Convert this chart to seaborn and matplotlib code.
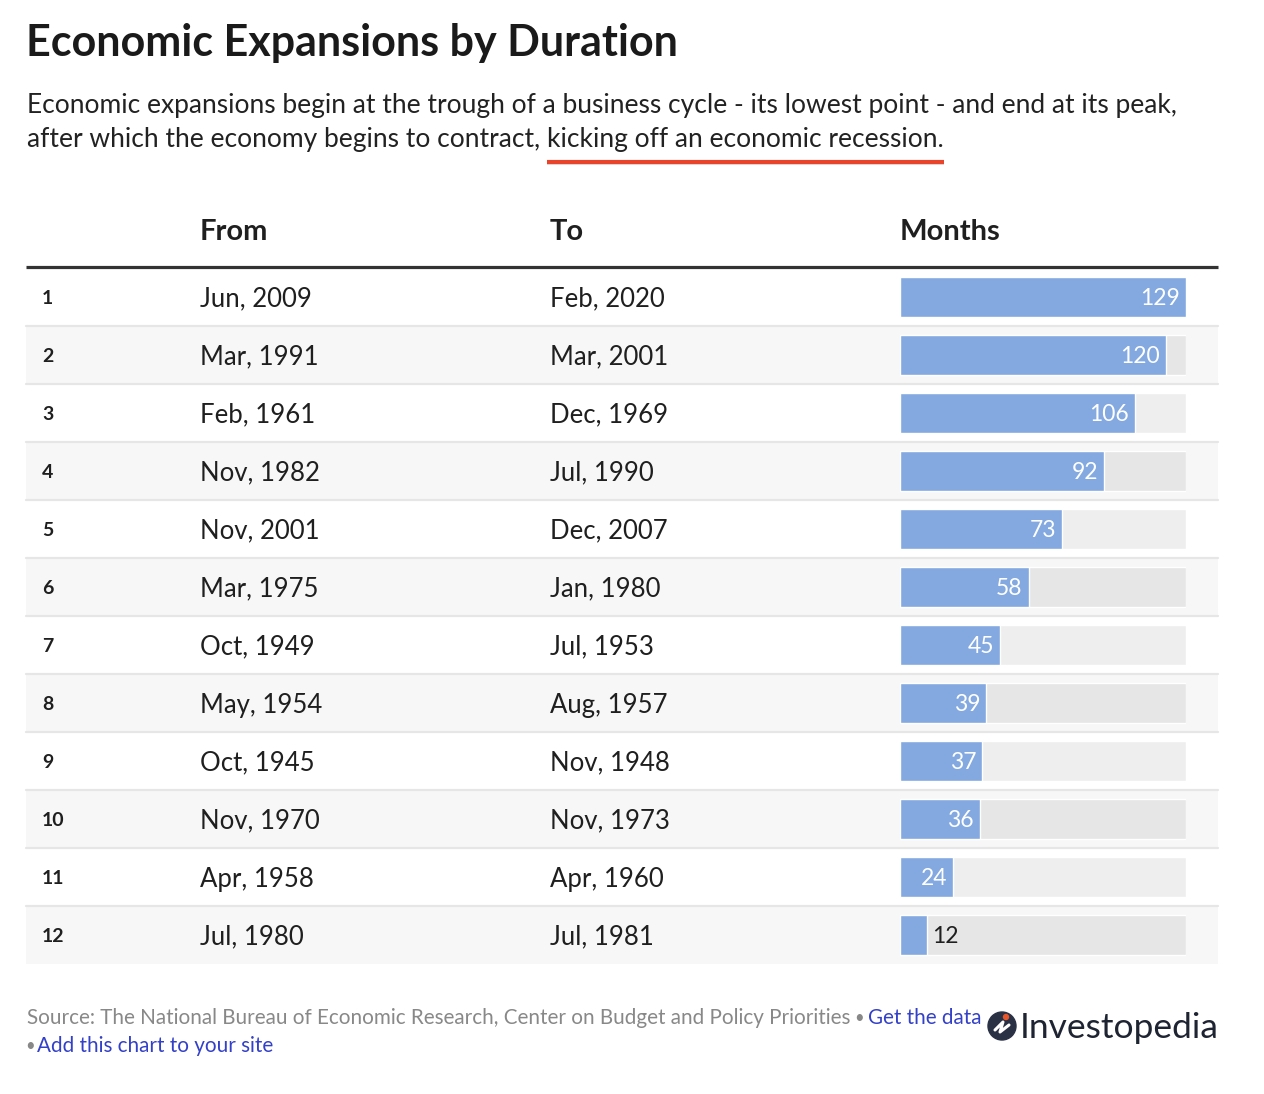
import matplotlib
matplotlib.use("Agg")
import matplotlib.pyplot as plt
from matplotlib.patches import Rectangle, Circle
import seaborn as sns
import pandas as pd

ranks = ["1", "2", "3", "4", "5", "6", "7", "8", "9", "10", "11", "12"]
from_dates = ["Jun, 2009", "Mar, 1991", "Feb, 1961", "Nov, 1982", "Nov, 2001", "Mar, 1975",
              "Oct, 1949", "May, 1954", "Oct, 1945", "Nov, 1970", "Apr, 1958", "Jul, 1980"]
to_dates = ["Feb, 2020", "Mar, 2001", "Dec, 1969", "Jul, 1990", "Dec, 2007", "Jan, 1980",
            "Jul, 1953", "Aug, 1957", "Nov, 1948", "Nov, 1973", "Apr, 1960", "Jul, 1981"]
months = [129, 120, 106, 92, 73, 58, 45, 39, 37, 36, 24, 12]

title = "Economic Expansions by Duration"
sub_line1 = "Economic expansions begin at the trough of a business cycle - its lowest point - and end at its peak,"
sub_line2a = "after which the economy begins to contract, "
sub_line2b = "kicking off an economic recession."
source = "Source: The National Bureau of Economic Research, Center on Budget and Policy Priorities"

sns.set_theme(style="white")
plt.rcParams["font.family"] = ["Lato", "DejaVu Sans"]

W, H = 1264, 1094
fig = plt.figure(figsize=(W / 100, H / 100), dpi=100)
fig.patch.set_facecolor("white")
ax = fig.add_axes([0, 0, 1, 1])
ax.set_xlim(0, W)
ax.set_ylim(H, 0)
ax.axis("off")

dark = "#1f1f1f"
blue = "#3340c8"

# title + subtitle
ax.text(26, 43, title, fontsize=31, fontweight="bold", color="#1a1a1a", va="center", ha="left")
ax.text(27, 106, sub_line1, fontsize=19, color="#222222", va="center", ha="left")
t1 = ax.text(27, 139, sub_line2a, fontsize=19, color="#222222", va="center", ha="left")
fig.canvas.draw()
r = fig.canvas.get_renderer()
inv = ax.transData.inverted()
bb = t1.get_window_extent(r)
x_start = inv.transform((bb.x1, bb.y0))[0]
t2 = ax.text(x_start, 139, sub_line2b, fontsize=19, color="#222222", va="center", ha="left")
bb2 = t2.get_window_extent(r)
x_end = inv.transform((bb2.x1, bb2.y0))[0]
ax.plot([x_start, x_end], [163, 163], color="#cccccc", lw=3, alpha=0.6, solid_capstyle="butt")
ax.plot([x_start, x_end], [161.5, 161.5], color="#e8442b", lw=3, solid_capstyle="butt")

# table geometry
left, right = 26, 1218
top, row_h = 268, 58
col_rank, col_from, col_to, col_bar = 42, 200, 550, 900

ax.text(col_from, 232, "From", fontsize=21, fontweight="bold", color=dark, va="center")
ax.text(col_to, 232, "To", fontsize=21, fontweight="bold", color=dark, va="center")
ax.text(col_bar, 232, "Months", fontsize=21, fontweight="bold", color=dark, va="center")
ax.plot([left, right], [266.5, 266.5], color="#333333", lw=2.3, solid_capstyle="butt")

for i in range(len(ranks)):
    y0 = top + i * row_h
    if i % 2 == 1:
        ax.add_patch(Rectangle((left, y0), right - left, row_h, color="#f7f7f7", lw=0, zorder=0))
    if i < len(ranks) - 1:
        ax.plot([left, right], [y0 + row_h, y0 + row_h], color="#e6e6e6", lw=1.6, zorder=1)
    yc = y0 + row_h / 2
    ax.text(col_rank, yc + 1, ranks[i], fontsize=14, fontweight="bold", color=dark, va="center")
    ax.text(col_from, yc + 2, from_dates[i], fontsize=18.5, color=dark, va="center")
    ax.text(col_to, yc + 2, to_dates[i], fontsize=18.5, color=dark, va="center")

# bars in their own axes
bar_right = 1186
n = len(ranks)
bax = fig.add_axes([col_bar / W, 1 - (top + n * row_h) / H,
                    (bar_right - col_bar) / W, n * row_h / H])
bax.patch.set_alpha(0)
df = pd.DataFrame({"rank": ranks, "months": months,
                   "track": [max(months)] * n,
                   "shade": ["a" if i % 2 == 0 else "b" for i in range(n)]})
sns.barplot(data=df, x="track", y="rank", hue="shade", palette={"a": "#eeeeee", "b": "#e6e6e6"},
            dodge=False, width=40 / 58, legend=False, ax=bax, saturation=1)
sns.barplot(data=df, x="months", y="rank", color="#83a9e0", width=40 / 58, ax=bax, saturation=1)
bax.set_xlim(0, max(months))
bax.set_ylim(n - 0.5, -0.5)
bax.axis("off")

px = max(months) / (bar_right - col_bar)
for i, v in enumerate(months):
    if v >= 20:
        bax.text(v - 6 * px, i + 0.03, str(v), color="white", fontsize=16.5, ha="right", va="center")
    else:
        bax.text(v + 6 * px, i + 0.03, str(v), color=dark, fontsize=16.5, ha="left", va="center")

# footer
s = ax.text(27, 1018, source, fontsize=14.9, color="#888888", va="center")
fig.canvas.draw()
bb = s.get_window_extent(r)
xs = inv.transform((bb.x1, bb.y0))[0]
s2 = ax.text(xs + 4, 1018, "•", fontsize=12, color="#888888", va="center")
bb = s2.get_window_extent(r)
xs = inv.transform((bb.x1, bb.y0))[0]
ax.text(xs + 4, 1018, "Get the data", fontsize=14.9, color=blue, va="center")
ax.text(25, 1046, "•", fontsize=12, color="#888888", va="center")
ax.text(37, 1046, "Add this chart to your site", fontsize=14.9, color=blue, va="center")

# logo
ax.add_patch(Circle((1002, 1026), 14, color="#2b3145", zorder=3))
ax.plot([995, 1003, 1000, 1009], [1030, 1022, 1032, 1025], color="white", lw=2.2, zorder=4)
ax.add_patch(Circle((1006, 1017), 2.5, color="#e8562a", zorder=5))
ax.text(1020, 1028, "Investopedia", fontsize=25.5, color="#1f2433", va="center")

fig.savefig("out.png", dpi=100, facecolor="white")
